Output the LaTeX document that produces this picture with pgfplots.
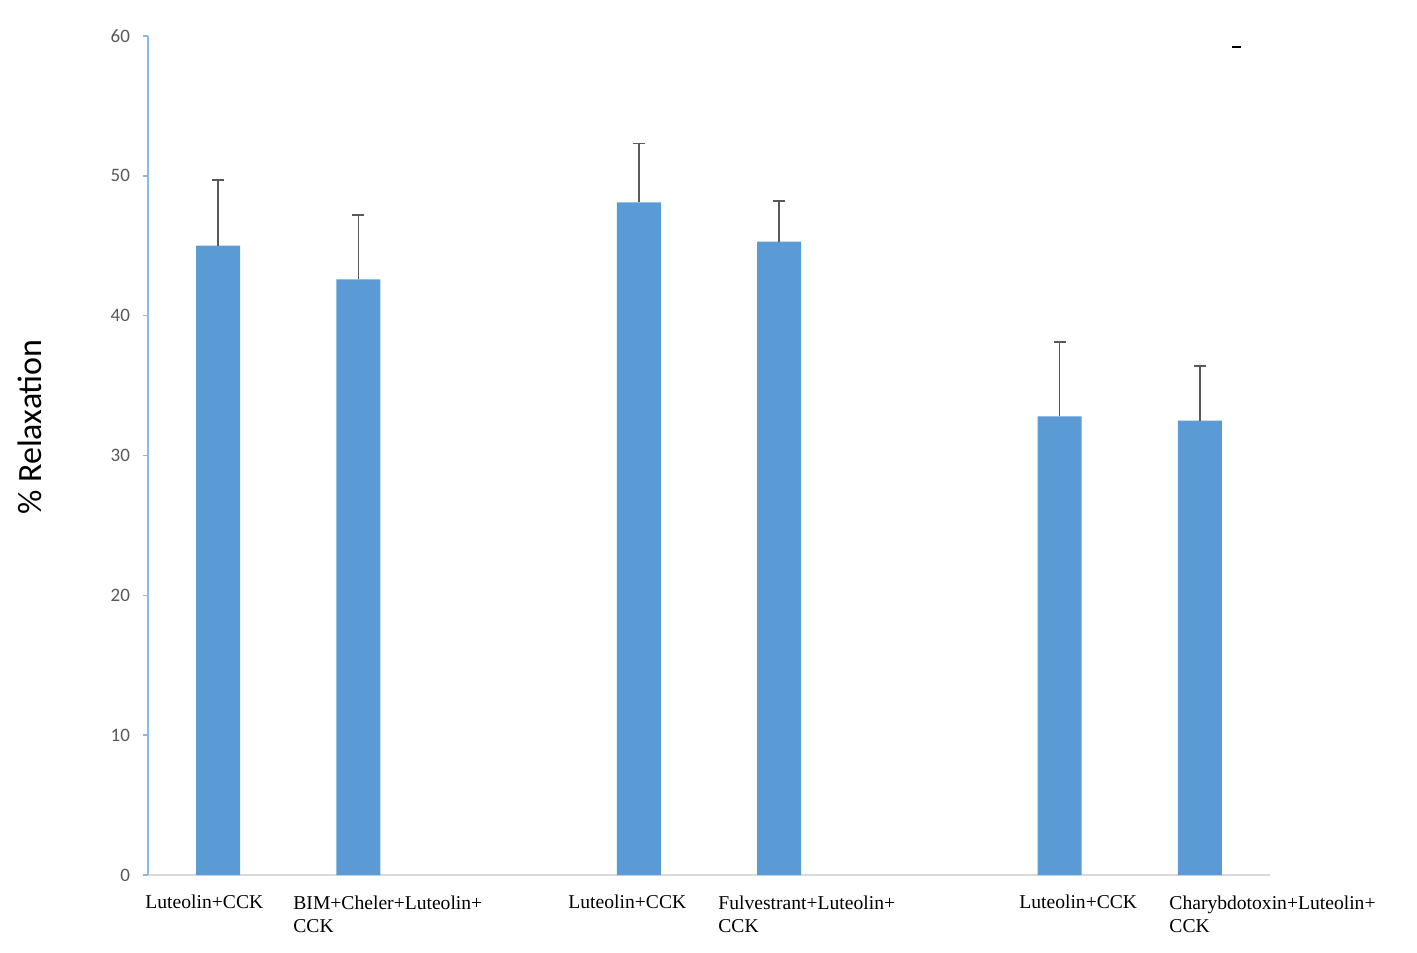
\documentclass[border=0pt]{standalone}
\usepackage{pgfplots}
\pgfplotsset{compat=1.18}
\usepackage{fontspec}
\setmainfont{Liberation Serif}
\newfontfamily\calibri{Carlito}
\definecolor{barblue}{HTML}{5B9BD5}
\definecolor{yaxisblue}{HTML}{8DB9E6}
\definecolor{xaxisgray}{HTML}{D9D9D9}
\definecolor{ticktext}{HTML}{595959}
\definecolor{errgray}{HTML}{595959}
\begin{document}
\begin{tikzpicture}
\begin{axis}[
  scale only axis,
  width=561pt, height=419.5pt,
  xmin=-0.5, xmax=7.5, ymin=0, ymax=60,
  ytick={0,10,...,60},
  xtick=\empty,
  axis x line*=bottom, axis y line*=left,
  axis line style={-},
  x axis line style={color=xaxisgray, line width=0.6pt},
  y axis line style={color=yaxisblue, line width=0.7pt},
  ytick style={draw=yaxisblue, line width=0.7pt},
  tick align=outside, major tick length=2.5pt,
  yticklabel style={font=\calibri\fontsize{9.5}{11}\selectfont, text=ticktext, /pgf/number format/assume math mode=true, xshift=-3pt},
  ylabel={\% Relaxation},
  every axis y label/.style={at={(rel axis cs:-0.105,0.534)}, rotate=90, anchor=center, font=\calibri\fontsize{17}{20}\selectfont},
  clip=false,
  ybar, bar width=22pt,
]
\addplot[fill=barblue, draw=none,
  error bars/.cd, y dir=plus, y explicit,
  error bar style={color=errgray, line width=0.75pt},
  error mark options={rotate=90, mark size=3pt, color=errgray, line width=0.75pt}]
  table[x=x, y=y, y error=e] {
x y e
0 45.0 4.7
1 42.6 4.6
3 48.1 4.2
4 45.3 2.9
6 32.8 5.3
7 32.5 3.9
};
\begin{scope}[every node/.style={anchor=north west, inner sep=0pt, align=left, font=\fontsize{9.8}{11.5}\selectfont, yshift=-10pt}]
\node at (axis cs:-0.521,0) {Luteolin+CCK};
\node at (axis cs:0.534,0) {BIM+Cheler+Luteolin+\\CCK};
\node at (axis cs:2.495,0) {Luteolin+CCK};
\node at (axis cs:3.564,0) {Fulvestrant+Luteolin+\\CCK};
\node at (axis cs:5.71,0) {Luteolin+CCK};
\node at (axis cs:6.78,0) {Charybdotoxin+Luteolin+\\CCK};
\end{scope}
\draw[black, line width=0.8pt] (axis cs:7.23,59.2) -- (axis cs:7.29,59.2);
\end{axis}
\path (-74pt,-38.5pt) rectangle (634.5pt,437.5pt);
\end{tikzpicture}
\end{document}
